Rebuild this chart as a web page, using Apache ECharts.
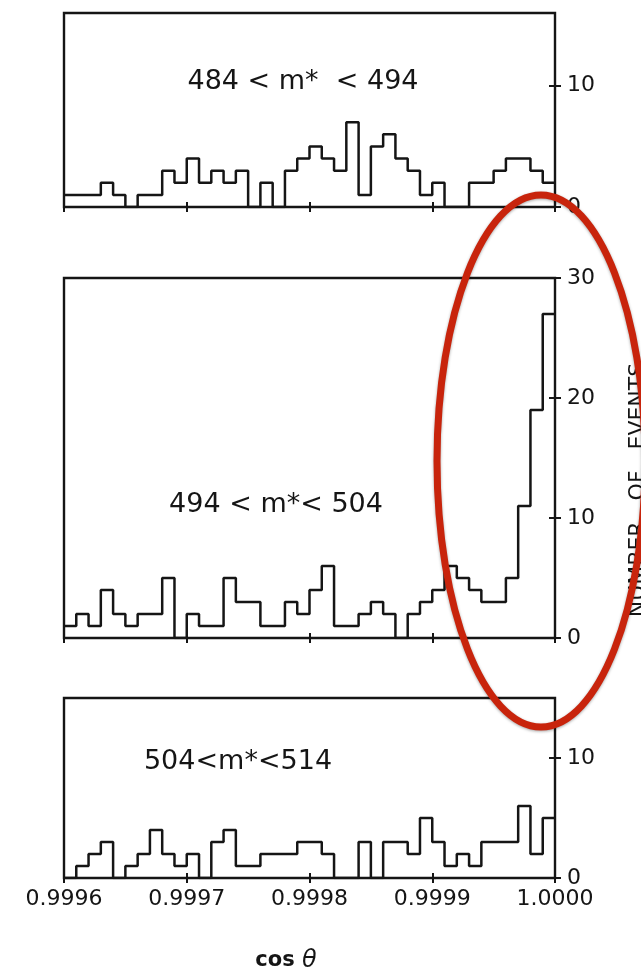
<!DOCTYPE html>
<html><head><meta charset="utf-8">
<script src="https://cdn.jsdelivr.net/npm/echarts@6/dist/echarts.min.js"></script>
<style>html,body{margin:0;padding:0;background:#fff}#c{width:641px;height:971px}</style>
</head><body><div id="c"></div>
<script>
// ---- data ----
const xMin = 0.9996, xMax = 1.0000, binWidth = 0.00001;
const xTickValues = [0.9996, 0.9997, 0.9998, 0.9999, 1.0000];
const xTickLabels = ['0.9996', '0.9997', '0.9998', '0.9999', '1.0000'];
const panelLabels = ['484 < m*  < 494', '494 < m*< 504', '504<m*<514'];
const countsTop = [1,1,1,2,1,0,1,1,3,2,4,2,3,2,3,0,2,0,3,4,5,4,3,7,1,5,6,4,3,1,2,0,0,2,2,3,4,4,3,2];
const countsMid = [1,2,1,4,2,1,2,2,5,0,2,1,1,5,3,3,1,1,3,2,4,6,1,1,2,3,2,0,2,3,4,6,5,4,3,3,5,11,19,27];
const countsBot = [0,1,2,3,0,1,2,4,2,1,2,0,3,4,1,1,2,2,2,3,3,2,0,0,3,0,3,3,2,5,3,1,2,1,3,3,3,6,2,5];
const yMaxes = [16, 30, 15];
const yTicksTop = [0, 10];
const yTicksMid = [0, 10, 20, 30];
const yTicksBot = [0, 10];
const yAxisTitle = 'NUMBER   OF   EVENTS';
const xAxisTitleMain = 'cos ';
const xAxisTitleSym = 'θ';

// ---- build ----
const INK = '#151515';
const FONT = 'DejaVu Sans';
const panels = [
  {counts: countsTop, yMax: yMaxes[0], yTicks: yTicksTop, top: 13, height: 194},
  {counts: countsMid, yMax: yMaxes[1], yTicks: yTicksMid, top: 278, height: 360},
  {counts: countsBot, yMax: yMaxes[2], yTicks: yTicksBot, top: 698, height: 180}
];
const grid = [], xAxis = [], yAxis = [], series = [];
function xLabelFmt(v) {
  const i = xTickValues.findIndex(t => Math.abs(t - v) < 1e-9);
  return i >= 0 ? xTickLabels[i] : '';
}
panels.forEach((p, g) => {
  grid.push({left: 64, top: p.top, width: 491, height: p.height, show: true,
    borderColor: INK, borderWidth: 2.4, backgroundColor: 'transparent'});
  xAxis.push({type: 'value', gridIndex: g, min: xMin, max: xMax, interval: 0.0001, position: 'bottom',
    axisLine: {show: false}, splitLine: {show: false},
    axisTick: {show: true, inside: true, length: 5, customValues: xTickValues, lineStyle: {color: INK, width: 2}},
    axisLabel: {show: false}});
  xAxis.push({type: 'value', gridIndex: g, min: xMin, max: xMax, interval: 0.0001, position: 'bottom',
    axisLine: {show: false}, splitLine: {show: false},
    axisTick: {show: true, inside: false, length: 5, customValues: xTickValues, lineStyle: {color: INK, width: 2}},
    axisLabel: {show: g === 2, customValues: xTickValues, formatter: xLabelFmt, margin: 10,
      fontFamily: FONT, fontSize: 22, color: INK}});
  yAxis.push({type: 'value', gridIndex: g, min: 0, max: p.yMax, interval: 10, position: 'right',
    axisLine: {show: false}, splitLine: {show: false},
    axisTick: {show: true, inside: true, length: 6, customValues: p.yTicks, lineStyle: {color: INK, width: 2}},
    axisLabel: {show: false}});
  yAxis.push({type: 'value', gridIndex: g, min: 0, max: p.yMax, interval: 10, position: 'right',
    axisLine: {show: false}, splitLine: {show: false},
    axisTick: {show: true, inside: false, length: 6, customValues: p.yTicks, lineStyle: {color: INK, width: 2}},
    axisLabel: {show: true, customValues: p.yTicks, margin: 12, fontFamily: FONT, fontSize: 22, color: INK}});
  const data = p.counts.map((c, i) => [xMin + i * binWidth, c]);
  data.push([xMax, p.counts[p.counts.length - 1]]);
  series.push({type: 'line', step: 'end', xAxisIndex: 2 * g, yAxisIndex: 2 * g, data: data,
    symbol: 'none', lineStyle: {color: INK, width: 2.5}, silent: true, animation: false});
});

const chart = echarts.init(document.getElementById('c'), null, {renderer: 'canvas'});
chart.setOption({
  backgroundColor: '#fff',
  animation: false,
  grid, xAxis, yAxis, series,
  graphic: [
    {type: 'text', x: 303, y: 82, style: {text: panelLabels[0], font: '27px "DejaVu Sans"', fill: INK, align: 'center', verticalAlign: 'middle'}},
    {type: 'text', x: 276, y: 505, style: {text: panelLabels[1], font: '27px "DejaVu Sans"', fill: INK, align: 'center', verticalAlign: 'middle'}},
    {type: 'text', x: 238, y: 762, style: {text: panelLabels[2], font: '27px "DejaVu Sans"', fill: INK, align: 'center', verticalAlign: 'middle'}},
    {type: 'text', x: 286, y: 961, style: {
      text: '{a|' + xAxisTitleMain + '}{b|' + xAxisTitleSym + '}',
      rich: {a: {fontFamily: FONT, fontSize: 21, fill: INK, fontWeight: 'bold'}, b: {fontFamily: FONT, fontSize: 24, fill: INK, fontStyle: 'italic'}},
      align: 'center', verticalAlign: 'middle'}},
    {type: 'text', x: 638, y: 490, rotation: Math.PI / 2, style: {text: yAxisTitle, font: '22px "DejaVu Sans"', fill: INK, align: 'center', verticalAlign: 'middle'}},
    {type: 'ellipse', z: 100, shape: {cx: 541, cy: 461, rx: 104, ry: 266},
      style: {fill: 'none', stroke: '#c8240c', lineWidth: 7, shadowBlur: 3, shadowColor: 'rgba(0,0,0,0.35)', shadowOffsetY: 1}}
  ]
});
</script>
</body></html>
